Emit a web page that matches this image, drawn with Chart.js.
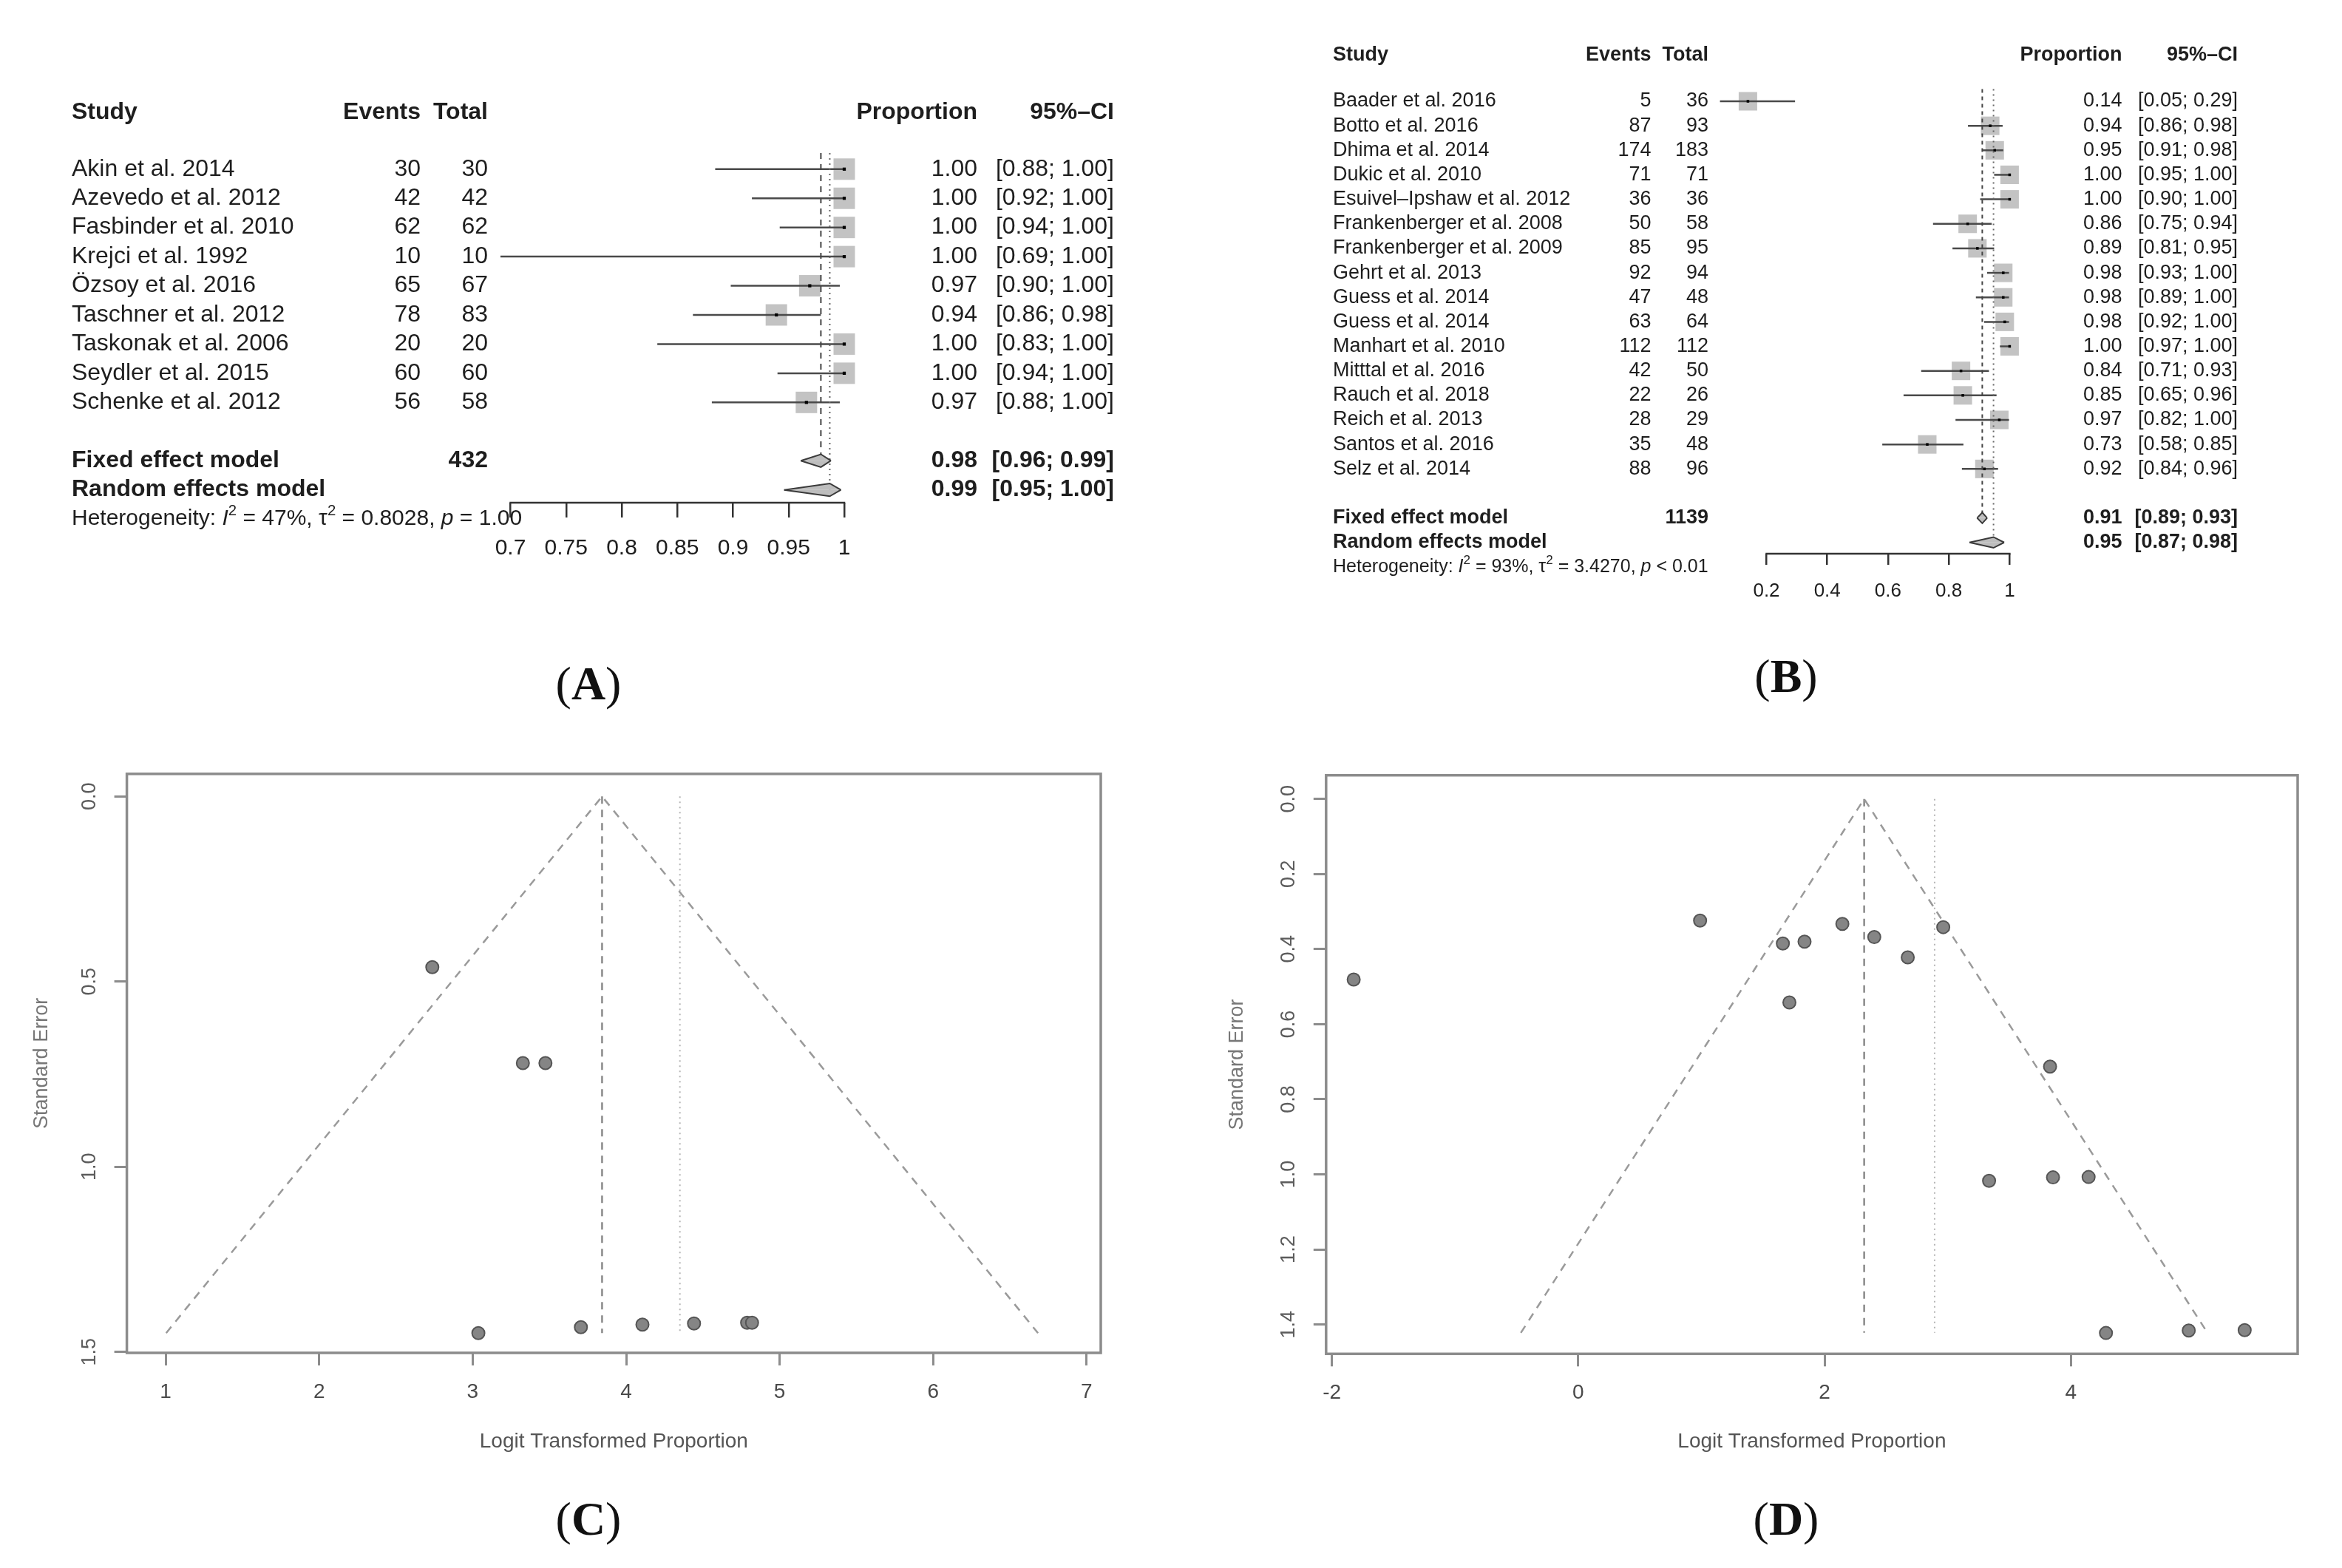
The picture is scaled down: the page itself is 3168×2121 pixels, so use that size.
<!DOCTYPE html>
<html>
<head>
<meta charset="utf-8">
<script src="https://cdn.jsdelivr.net/npm/chart.js@4.4.1/dist/chart.umd.min.js"></script>
<style>
html, body { margin: 0; padding: 0; background: #fff; }
#page { position: relative; width: 3168px; height: 2121px; overflow: hidden; background: #fff; }
canvas { position: absolute; left: 0; top: 0; }
.lab { position: absolute; font-family: "Liberation Serif", "Times New Roman", serif; font-size: 64px; color: #111;
       transform: translate(-50%, -50%); white-space: nowrap; }
</style>
</head>
<body>
<div id="page">
  <canvas id="forestA" width="3168" height="2121"></canvas>
  <canvas id="forestB" width="3168" height="2121"></canvas>
  <canvas id="funnelC" width="3168" height="2121"></canvas>
  <canvas id="funnelD" width="3168" height="2121"></canvas>
  <div class="lab" style="left:796px;top:925px">(<b>A</b>)</div>
  <div class="lab" style="left:2416px;top:915px">(<b>B</b>)</div>
  <div class="lab" style="left:796px;top:2055px">(<b>C</b>)</div>
  <div class="lab" style="left:2416px;top:2055px">(<b>D</b>)</div>
</div>
<script>
const FONT = '"Liberation Sans", Arial, Helvetica, sans-serif';

// ---- panel A : forest plot ----
const studiesA = ['Akin et al. 2014', 'Azevedo et al. 2012', 'Fasbinder et al. 2010', 'Krejci et al. 1992',
  'Özsoy et al. 2016', 'Taschner et al. 2012', 'Taskonak et al. 2006', 'Seydler et al. 2015', 'Schenke et al. 2012'];
const eventsA = [30, 42, 62, 10, 65, 78, 20, 60, 56];
const totalA = [30, 42, 62, 10, 67, 83, 20, 60, 58];
const propA = [1, 1, 1, 1, 0.969, 0.939, 1, 1, 0.966];
const lowerA = [0.884, 0.917, 0.942, 0.691, 0.898, 0.864, 0.832, 0.940, 0.881];
const upperA = [1, 1, 1, 1, 0.996, 0.979, 1, 1, 0.996];
const fixedA = [0.979, 0.961, 0.988];   // estimate, lower, upper
const randomA = [0.987, 0.946, 0.997];
const ticksA = [0.7, 0.75, 0.8, 0.85, 0.9, 0.95, 1];
const hetA = ['47%', '0.8028', '= 1.00'];

// ---- panel B : forest plot ----
const studiesB = ['Baader et al. 2016', 'Botto et al. 2016', 'Dhima et al. 2014', 'Dukic et al. 2010',
  'Esuivel–Ipshaw et al. 2012', 'Frankenberger et al. 2008', 'Frankenberger et al. 2009', 'Gehrt et al. 2013',
  'Guess et al. 2014', 'Guess et al. 2014', 'Manhart et al. 2010', 'Mitttal et al. 2016', 'Rauch et al. 2018',
  'Reich et al. 2013', 'Santos et al. 2016', 'Selz et al. 2014'];
const eventsB = [5, 87, 174, 71, 36, 50, 85, 92, 47, 63, 112, 42, 22, 28, 35, 88];
const totalB = [36, 93, 183, 71, 36, 58, 95, 94, 48, 64, 112, 50, 26, 29, 48, 96];
const propB = [0.139, 0.936, 0.951, 1, 1, 0.862, 0.894, 0.979, 0.979, 0.984, 1, 0.84, 0.846, 0.966, 0.729, 0.917];
const lowerB = [0.047, 0.863, 0.910, 0.949, 0.903, 0.748, 0.812, 0.926, 0.889, 0.916, 0.968, 0.709, 0.651, 0.822, 0.581, 0.843];
const upperB = [0.294, 0.977, 0.979, 1, 1, 0.941, 0.949, 0.998, 0.998, 0.998, 1, 0.932, 0.957, 0.998, 0.848, 0.962];
const fixedB = [0.910, 0.893, 0.926];
const randomB = [0.947, 0.868, 0.982];
const ticksB = [0.2, 0.4, 0.6, 0.8, 1];
const hetB = ['93%', '3.4270', '< 0.01'];

// ---- panel C : funnel plot ----
const logitC = [2.737, 3.327, 3.474, 3.037, 3.705, 4.106, 4.442, 4.788, 4.82];
const seC = [0.461, 0.72, 0.72, 1.449, 1.433, 1.426, 1.423, 1.421, 1.421];
const funnelXC = [1.003, 3.843, 6.683];
const funnelYC = [1.449, 0, 1.449];
const fixedC = 3.843;
const randomC = 4.35;
const ticksXC = [1, 2, 3, 4, 5, 6, 7];
const ticksYC = [0, 0.5, 1, 1.5];

// ---- panel D : funnel plot ----
const logitD = [-1.823, 0.989, 1.661, 1.837, 2.144, 2.403, 2.675, 2.963, 1.714, 3.830, 3.335, 3.854, 4.143, 4.284, 4.956, 5.41];
const seD = [0.481, 0.324, 0.385, 0.380, 0.333, 0.368, 0.422, 0.3415, 0.542, 0.713, 1.017, 1.008, 1.007, 1.4225, 1.416, 1.415];
const funnelXD = [-0.466, 2.321, 5.108];
const funnelYD = [1.422, 0, 1.422];
const fixedD = 2.321;
const randomD = 2.893;
const ticksXD = [-2, 0, 2, 4];
const ticksYD = [0, 0.2, 0.4, 0.6, 0.8, 1, 1.2, 1.4];

Chart.defaults.font.family = FONT;
Chart.defaults.color = '#222';

function richText(ctx, parts, x, y, size) {
  let cx = x;
  ctx.textAlign = 'left';
  parts.forEach(([t, kind]) => {
    const sup = kind === 'sup';
    ctx.font = (kind === 'italic' ? 'italic ' : '') + (sup ? size * 0.68 : size) + 'px ' + FONT;
    ctx.fillText(t, cx, sup ? y - size * 0.36 : y);
    cx += ctx.measureText(t).width;
  });
}

function forest(id, d, s) {
  const n = d.studies.length;
  const rows = d.studies.map((_, i) => i);
  const datasets = [];
  // summary diamonds (on top)
  [[d.fixed, n + 1], [d.random, n + 2]].forEach(([m, r]) => {
    [-1, 1].forEach(sg => datasets.push({
      type: 'line', data: [{x: m[1], y: r}, {x: m[0], y: r + sg * s.dh}, {x: m[2], y: r}],
      fill: {value: r}, backgroundColor: '#bdbdbd', borderColor: '#3a3a3a', borderWidth: 2,
      pointRadius: 0, tension: 0, clip: false, order: 0
    }));
  });
  // fixed / random reference lines
  datasets.push({type: 'line', data: [{x: d.fixed[0], y: s.refTop}, {x: d.fixed[0], y: n + 1}],
    borderColor: '#444', borderWidth: 2, borderDash: s.fixDash, pointRadius: 0, clip: false, order: 1});
  datasets.push({type: 'line', data: [{x: d.random[0], y: s.refTop}, {x: d.random[0], y: n + 2}],
    borderColor: '#666', borderWidth: 2, borderDash: s.ranDash, pointRadius: 0, clip: false, order: 1});
  // point estimates
  datasets.push({type: 'scatter', data: rows.map(i => ({x: d.prop[i], y: i})), pointStyle: 'rect',
    pointRadius: s.dot, backgroundColor: '#000', borderWidth: 0, clip: false, order: 2});
  // confidence intervals
  rows.forEach(i => datasets.push({type: 'line', data: [{x: d.low[i], y: i}, {x: d.up[i], y: i}],
    borderColor: '#4a4a4a', borderWidth: s.ciW, pointRadius: 0, clip: false, order: 3}));
  // weight squares
  datasets.push({type: 'scatter', data: rows.map(i => ({x: d.prop[i], y: i})), pointStyle: 'rect',
    pointRadius: s.sq, backgroundColor: '#c3c3c3', borderWidth: 0, clip: false, order: 4});

  const textPlugin = {
    id: 'forestText',
    afterDraw(chart) {
      const ctx = chart.ctx, ys = chart.scales.y, xs = chart.scales.x, c = s.cols;
      const put = (t, x, r, align, bold) => {
        ctx.font = (bold ? 'bold ' : '') + s.fs + 'px ' + FONT;
        ctx.textAlign = align;
        ctx.fillText(t, x, ys.getPixelForValue(r));
      };
      const ci = (lo, hi) => '[' + lo.toFixed(2) + '; ' + hi.toFixed(2) + ']';
      ctx.save();
      // axis line only between the first and last tick
      ctx.strokeStyle = '#333';
      ctx.lineWidth = 2.5;
      ctx.beginPath();
      ctx.moveTo(xs.getPixelForValue(d.ticks[0]) - 1.25, chart.chartArea.bottom);
      ctx.lineTo(xs.getPixelForValue(d.ticks[d.ticks.length - 1]) + 1.25, chart.chartArea.bottom);
      ctx.stroke();
      ctx.fillStyle = '#1e1e1e';
      ctx.textBaseline = 'middle';
      put('Study', c.study, s.headRow, 'left', true);
      put('Events', c.events, s.headRow, 'right', true);
      put('Total', c.total, s.headRow, 'right', true);
      put('Proportion', c.prop, s.headRow, 'right', true);
      put('95%–CI', c.ci, s.headRow, 'right', true);
      rows.forEach(i => {
        put(d.studies[i], c.study, i, 'left');
        put(String(d.events[i]), c.events, i, 'right');
        put(String(d.total[i]), c.total, i, 'right');
        put(d.prop[i].toFixed(2), c.prop, i, 'right');
        put(ci(d.low[i], d.up[i]), c.ci, i, 'right');
      });
      put('Fixed effect model', c.study, n + 1, 'left', true);
      put(String(d.total.reduce((a, b) => a + b, 0)), c.total, n + 1, 'right', true);
      put(d.fixed[0].toFixed(2), c.prop, n + 1, 'right', true);
      put(ci(d.fixed[1], d.fixed[2]), c.ci, n + 1, 'right', true);
      put('Random effects model', c.study, n + 2, 'left', true);
      put(d.random[0].toFixed(2), c.prop, n + 2, 'right', true);
      put(ci(d.random[1], d.random[2]), c.ci, n + 2, 'right', true);
      richText(ctx, [['Heterogeneity: ', ''], ['I', 'italic'], ['2', 'sup'], [' = ' + d.het[0] + ', τ', ''],
        ['2', 'sup'], [' = ' + d.het[1] + ', ', ''], ['p', 'italic'], [' ' + d.het[2], '']],
        c.study, ys.getPixelForValue(n + 3), s.hfs);
      ctx.restore();
    }
  };

  new Chart(document.getElementById(id), {
    type: 'scatter',
    data: {datasets},
    options: {
      responsive: false, animation: false, devicePixelRatio: 1, events: [],
      layout: {padding: s.pad},
      plugins: {legend: {display: false}, tooltip: {enabled: false}},
      scales: {
        x: {
          type: 'linear', min: s.xr[0], max: s.xr[1],
          afterBuildTicks: sc => { sc.ticks = d.ticks.map(v => ({value: v})); },
          afterFit: sc => { sc.height = 100; },
          border: {display: false},
          grid: {drawOnChartArea: false, drawTicks: true, tickLength: s.tickLen, color: '#333', lineWidth: 2.5},
          ticks: {padding: s.tickPad, color: '#1e1e1e', font: {size: s.tfs}, autoSkip: false,
                  maxRotation: 0, minRotation: 0, callback: v => String(v)}
        },
        y: {type: 'linear', display: false, reverse: true, min: s.yMin, max: s.axisRow}
      }
    },
    plugins: [textPlugin]
  });
}

function funnel(id, d, s) {
  const boxPlugin = {
    id: 'funnelBox',
    afterDraw(chart) {
      const {ctx, chartArea: a} = chart;
      const ys = chart.scales.y;
      ctx.save();
      ctx.strokeStyle = '#8c8c8c';
      ctx.lineWidth = 3.5;
      ctx.strokeRect(a.left, a.top, a.right - a.left, a.bottom - a.top);
      ctx.fillStyle = '#5c5c5c';
      ctx.font = '27px ' + FONT;
      ctx.textAlign = 'center';
      ctx.textBaseline = 'middle';
      ys.ticks.forEach(t => {
        ctx.save();
        ctx.translate(a.left - 50, ys.getPixelForValue(t.value));
        ctx.rotate(-Math.PI / 2);
        ctx.fillText(t.label, 0, 0);
        ctx.restore();
      });
      ctx.restore();
    }
  };
  new Chart(document.getElementById(id), {
    type: 'scatter',
    data: {
      datasets: [
        {type: 'scatter', data: d.x.map((v, i) => ({x: v, y: d.se[i]})), pointRadius: 8.5,
         backgroundColor: '#858585', borderColor: '#555', borderWidth: 2, order: 0},
        {type: 'line', data: d.fx.map((v, i) => ({x: v, y: d.fy[i]})), borderColor: '#9a9a9a', borderWidth: 2.5,
         borderDash: [11, 9], pointRadius: 0, tension: 0, order: 1},
        {type: 'line', data: [{x: d.fixed, y: 0}, {x: d.fixed, y: d.fy[0]}], borderColor: '#8a8a8a', borderWidth: 2.5,
         borderDash: [10, 8], pointRadius: 0, order: 1},
        {type: 'line', data: [{x: d.random, y: 0}, {x: d.random, y: d.fy[0]}], borderColor: '#b5b5b5', borderWidth: 2,
         borderDash: [2, 5], pointRadius: 0, order: 1}
      ]
    },
    options: {
      responsive: false, animation: false, devicePixelRatio: 1, events: [],
      layout: {padding: s.pad},
      plugins: {legend: {display: false}, tooltip: {enabled: false}},
      scales: {
        x: {
          type: 'linear', min: s.xr[0], max: s.xr[1],
          afterBuildTicks: sc => { sc.ticks = d.tx.map(v => ({value: v})); },
          afterFit: sc => { sc.height = s.xh; },
          border: {display: false},
          grid: {drawOnChartArea: false, drawTicks: true, tickLength: 17, color: '#8c8c8c', lineWidth: 3},
          ticks: {padding: 19, color: '#4a4a4a', font: {size: 28}, autoSkip: false, maxRotation: 0, minRotation: 0,
                  callback: v => String(v)},
          title: {display: true, text: 'Logit Transformed Proportion', color: '#555', font: {size: 28},
                  padding: {top: 0, bottom: 73}}
        },
        y: {
          type: 'linear', reverse: true, min: s.yr[0], max: s.yr[1],
          afterBuildTicks: sc => { sc.ticks = d.ty.map(v => ({value: v})); },
          afterFit: sc => { sc.width = s.yw; },
          border: {display: false},
          grid: {drawOnChartArea: false, drawTicks: true, tickLength: 17, color: '#8c8c8c', lineWidth: 3},
          ticks: {display: false, callback: v => v.toFixed(1)},
          title: {display: true, text: 'Standard Error', color: '#777', font: {size: 27},
                  padding: {top: s.ytp, bottom: 0}}
        }
      }
    },
    plugins: [boxPlugin]
  });
}

forest('forestA',
  {studies: studiesA, events: eventsA, total: totalA, prop: propA, low: lowerA, up: upperA,
   fixed: fixedA, random: randomA, ticks: ticksA, het: hetA},
  {pad: {left: 690.5, right: 2026, top: 149.9, bottom: 1341}, xr: [0.7, 1], yMin: -2, axisRow: 11.44,
   headRow: -1.93, refTop: -0.55, fs: 32, hfs: 30, tfs: 30, tickLen: 20, tickPad: 24,
   sq: 20.5, dot: 3, ciW: 2.5, dh: 0.22, fixDash: [8, 7], ranDash: [2, 5],
   cols: {study: 97, events: 569, total: 660, prop: 1322, ci: 1507}});

// x range starts below the first tick so the Baader square is still drawn
forest('forestB',
  {studies: studiesB, events: eventsB, total: totalB, prop: propB, low: lowerB, up: upperB,
   fixed: fixedB, random: randomB, ticks: ticksB, het: hetB},
  {pad: {left: 2319.6, right: 449.6, top: 70.7, bottom: 1272}, xr: [0.03, 1], yMin: -2, axisRow: 18.46,
   headRow: -1.88, refTop: -0.5, fs: 27, hfs: 25, tfs: 26, tickLen: 15, tickPad: 20,
   sq: 17.7, dot: 2.5, ciW: 2.5, dh: 0.22, fixDash: [5, 5], ranDash: [2, 5],
   cols: {study: 1803, events: 2233.5, total: 2311, prop: 2870.5, ci: 3027}});

funnel('funnelC',
  {x: logitC, se: seC, fx: funnelXC, fy: funnelYC, fixed: fixedC, random: randomC, tx: ticksXC, ty: ticksYC},
  {pad: {left: 0, right: 1679, top: 1046.8, bottom: 81}, xr: [0.747, 7.092], yr: [-0.061, 1.5025],
   xh: 210, yw: 171.6, ytp: 40.8});

funnel('funnelD',
  {x: logitD, se: seD, fx: funnelXD, fy: funnelYD, fixed: fixedD, random: randomD, tx: ticksXD, ty: ticksYD},
  {pad: {left: 1600, right: 60, top: 1048.7, bottom: 81}, xr: [-2.047, 5.84], yr: [-0.063, 1.478],
   xh: 208.7, yw: 193.8, ytp: 57.8});
</script>
</body>
</html>
